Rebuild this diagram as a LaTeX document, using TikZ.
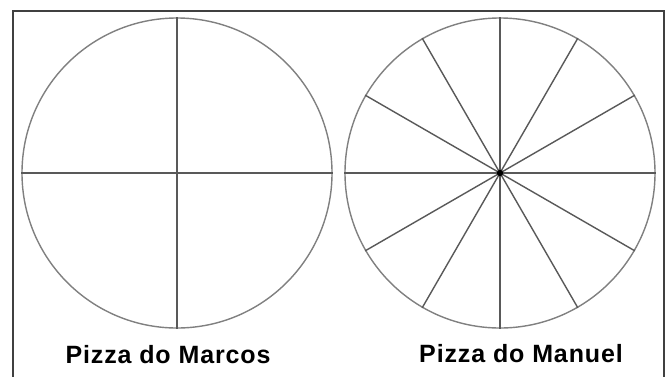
\documentclass[tikz,border=0pt]{standalone}
\usepackage{fontspec}
\setmainfont{Liberation Sans}
\begin{document}
\begin{tikzpicture}[x=1pt,y=-1pt,
  pizza/.style={circle,draw=black!50,line width=1.4pt,minimum size=310pt,inner sep=0pt},
  cutline/.style={draw=black!65,line width=1.4pt},
  frameline/.style={draw=black!75,line width=2pt},
  caption/.style={font=\bfseries\fontsize{25}{25}\selectfont\addfontfeature{LetterSpace=3.5},anchor=base,inner sep=0pt}]
\useasboundingbox (0,0) rectangle (666,376);
\fill[white] (0,0) rectangle (666,376);
\coordinate (fbl) at (13,390);
\coordinate (ftl) at (13,11);
\coordinate (ftr) at (664,11);
\coordinate (fbr) at (664,390);
\draw[frameline] (fbl) -- (ftl) -- (ftr) -- (fbr);
% left pizza
\node[pizza] (pm) at (177,173) {};
\draw[cutline] (pm.north) -- (pm.south);
\draw[cutline] (pm.west) -- (pm.east);
% right pizza
\node[pizza] (pn) at (500,173) {};
\foreach \a in {0,30,...,330}
  \draw[cutline] (pn.center) -- (pn.\a);
\fill[black] (pn.center) circle (3.2pt);
\node[caption] (tm) at (168,363) {Pizza do Marcos};
\node[caption] (tn) at (521,362) {Pizza do Manuel};
\end{tikzpicture}
\end{document}
